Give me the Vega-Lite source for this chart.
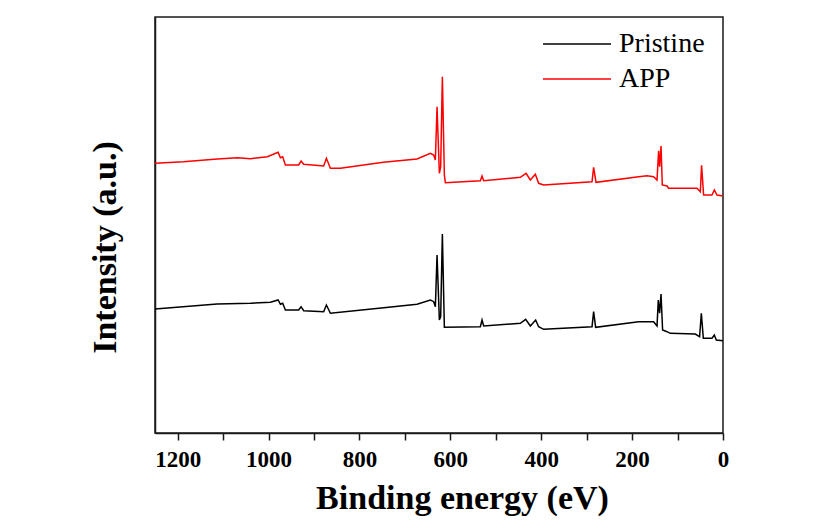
{
  "$schema": "https://vega.github.io/schema/vega-lite/v6.json",
  "autosize": {"type": "none"},
  "padding": {"left": 155, "top": 17, "right": 103, "bottom": 88},
  "width": 568,
  "height": 416,
  "background": "white",
  "config": {
    "view": {"stroke": "#1a1a1a", "strokeWidth": 1.5},
    "font": "Liberation Serif",
    "axis": {"labelFont": "Liberation Serif", "titleFont": "Liberation Serif"},
    "legend": {"labelFont": "Liberation Serif"}
  },
  "data": {
    "values": [
      {"s": "APP", "e": 1250, "i": 271.7},
      {"s": "APP", "e": 1187.5, "i": 273.3},
      {"s": "APP", "e": 1112.7, "i": 276},
      {"s": "APP", "e": 1068.6, "i": 277.3},
      {"s": "APP", "e": 1040, "i": 276.3},
      {"s": "APP", "e": 1002.6, "i": 278.3},
      {"s": "APP", "e": 979.1, "i": 282.7},
      {"s": "APP", "e": 974, "i": 277.3},
      {"s": "APP", "e": 969, "i": 278.3},
      {"s": "APP", "e": 963, "i": 270},
      {"s": "APP", "e": 933.8, "i": 270},
      {"s": "APP", "e": 928.5, "i": 274},
      {"s": "APP", "e": 922.8, "i": 270.7},
      {"s": "APP", "e": 878.8, "i": 269},
      {"s": "APP", "e": 872.8, "i": 276.7},
      {"s": "APP", "e": 864, "i": 266.7},
      {"s": "APP", "e": 842, "i": 266.7},
      {"s": "APP", "e": 747.4, "i": 272.7},
      {"s": "APP", "e": 673.3, "i": 276},
      {"s": "APP", "e": 644, "i": 281.7},
      {"s": "APP", "e": 636.7, "i": 280},
      {"s": "APP", "e": 633, "i": 275},
      {"s": "APP", "e": 629.3, "i": 328.3},
      {"s": "APP", "e": 624.2, "i": 261.7},
      {"s": "APP", "e": 621.3, "i": 268.3},
      {"s": "APP", "e": 617.6, "i": 358.3},
      {"s": "APP", "e": 613.2, "i": 260},
      {"s": "APP", "e": 611, "i": 252.3},
      {"s": "APP", "e": 534, "i": 254.3},
      {"s": "APP", "e": 530.3, "i": 259},
      {"s": "APP", "e": 526.7, "i": 254.3},
      {"s": "APP", "e": 446, "i": 257.7},
      {"s": "APP", "e": 433.4, "i": 261.7},
      {"s": "APP", "e": 424, "i": 255},
      {"s": "APP", "e": 413, "i": 260.7},
      {"s": "APP", "e": 405.7, "i": 251.7},
      {"s": "APP", "e": 394.7, "i": 250},
      {"s": "APP", "e": 288.2, "i": 253.3},
      {"s": "APP", "e": 284.7, "i": 267.7},
      {"s": "APP", "e": 279.4, "i": 252.7},
      {"s": "APP", "e": 185.7, "i": 258.3},
      {"s": "APP", "e": 167.2, "i": 259.3},
      {"s": "APP", "e": 152.7, "i": 258.3},
      {"s": "APP", "e": 145.2, "i": 255},
      {"s": "APP", "e": 141.7, "i": 284.3},
      {"s": "APP", "e": 139.5, "i": 268.3},
      {"s": "APP", "e": 136.4, "i": 289},
      {"s": "APP", "e": 133.6, "i": 250},
      {"s": "APP", "e": 123.2, "i": 249},
      {"s": "APP", "e": 119.7, "i": 246.7},
      {"s": "APP", "e": 57.2, "i": 246.7},
      {"s": "APP", "e": 49.9, "i": 243.3},
      {"s": "APP", "e": 47.1, "i": 269.7},
      {"s": "APP", "e": 42.7, "i": 240},
      {"s": "APP", "e": 24.2, "i": 240},
      {"s": "APP", "e": 19.1, "i": 245},
      {"s": "APP", "e": 13.2, "i": 240},
      {"s": "APP", "e": 0, "i": 239},
      {"s": "Pristine", "e": 1250, "i": 126},
      {"s": "Pristine", "e": 1113.3, "i": 131},
      {"s": "Pristine", "e": 1040, "i": 131.7},
      {"s": "Pristine", "e": 996, "i": 132.7},
      {"s": "Pristine", "e": 979.1, "i": 135},
      {"s": "Pristine", "e": 974, "i": 130.7},
      {"s": "Pristine", "e": 969, "i": 131.7},
      {"s": "Pristine", "e": 963, "i": 125},
      {"s": "Pristine", "e": 933.8, "i": 125},
      {"s": "Pristine", "e": 928.5, "i": 128.3},
      {"s": "Pristine", "e": 922.8, "i": 124.3},
      {"s": "Pristine", "e": 878.8, "i": 123.3},
      {"s": "Pristine", "e": 872.8, "i": 130},
      {"s": "Pristine", "e": 864, "i": 121.7},
      {"s": "Pristine", "e": 746.7, "i": 127.3},
      {"s": "Pristine", "e": 673.3, "i": 130.7},
      {"s": "Pristine", "e": 644, "i": 135},
      {"s": "Pristine", "e": 636.7, "i": 133.3},
      {"s": "Pristine", "e": 633, "i": 128.3},
      {"s": "Pristine", "e": 629.3, "i": 180},
      {"s": "Pristine", "e": 624.2, "i": 115},
      {"s": "Pristine", "e": 621.3, "i": 118.3},
      {"s": "Pristine", "e": 617.6, "i": 201},
      {"s": "Pristine", "e": 613.2, "i": 107.7},
      {"s": "Pristine", "e": 534, "i": 108.3},
      {"s": "Pristine", "e": 530.3, "i": 115},
      {"s": "Pristine", "e": 526.7, "i": 109},
      {"s": "Pristine", "e": 446, "i": 111.7},
      {"s": "Pristine", "e": 434.3, "i": 115.7},
      {"s": "Pristine", "e": 424, "i": 109},
      {"s": "Pristine", "e": 412.3, "i": 115},
      {"s": "Pristine", "e": 405.7, "i": 108.3},
      {"s": "Pristine", "e": 394.7, "i": 105.7},
      {"s": "Pristine", "e": 288.2, "i": 108.3},
      {"s": "Pristine", "e": 284.7, "i": 123.3},
      {"s": "Pristine", "e": 280.3, "i": 107.7},
      {"s": "Pristine", "e": 185.7, "i": 113.3},
      {"s": "Pristine", "e": 152.7, "i": 113.3},
      {"s": "Pristine", "e": 145.2, "i": 109},
      {"s": "Pristine", "e": 142.4, "i": 135},
      {"s": "Pristine", "e": 139.5, "i": 121.7},
      {"s": "Pristine", "e": 136.4, "i": 141},
      {"s": "Pristine", "e": 132.9, "i": 105},
      {"s": "Pristine", "e": 123.2, "i": 103.3},
      {"s": "Pristine", "e": 116, "i": 101.7},
      {"s": "Pristine", "e": 60.9, "i": 101},
      {"s": "Pristine", "e": 51.5, "i": 98.3},
      {"s": "Pristine", "e": 47.7, "i": 121.7},
      {"s": "Pristine", "e": 43.3, "i": 96.7},
      {"s": "Pristine", "e": 24.2, "i": 96.7},
      {"s": "Pristine", "e": 19.1, "i": 100},
      {"s": "Pristine", "e": 14.7, "i": 95},
      {"s": "Pristine", "e": 0, "i": 94.3}
    ]
  },
  "mark": {"type": "line", "strokeWidth": 1.5, "interpolate": "linear"},
  "encoding": {
    "x": {
      "field": "e",
      "type": "quantitative",
      "scale": {"domain": [0, 1250], "reverse": true, "nice": false, "zero": false},
      "axis": {
        "title": "Binding energy (eV)",
        "values": [0, 100, 200, 300, 400, 500, 600, 700, 800, 900, 1000, 1100, 1200],
        "format": "d",
        "labelExpr": "datum.value % 200 === 0 ? format(datum.value, 'd') : ''",
        "grid": false,
        "domainColor": "#1a1a1a",
        "domainWidth": 1.5,
        "tickColor": "#1a1a1a",
        "tickWidth": 1.5,
        "tickSize": 7,
        "labelFont": "Liberation Serif",
        "labelFontWeight": "bold",
        "labelFontSize": 23,
        "labelColor": "black",
        "labelPadding": 8,
        "labelFlush": false,
        "labelOverlap": false,
        "titleFont": "Liberation Serif",
        "titleFontWeight": "bold",
        "titleFontSize": 34,
        "titleColor": "black",
        "titleX": 307,
        "titleY": 75,
        "titleBaseline": "alphabetic",
        "titleAlign": "center"
      }
    },
    "y": {
      "field": "i",
      "type": "quantitative",
      "scale": {"domain": [2, 418], "nice": false, "zero": false},
      "axis": {
        "title": "Intensity (a.u.)",
        "labels": false,
        "ticks": false,
        "grid": false,
        "domainColor": "#1a1a1a",
        "domainWidth": 1.5,
        "titleFont": "Liberation Serif",
        "titleFontWeight": "bold",
        "titleFontSize": 34,
        "titleColor": "black",
        "titleAngle": -90,
        "titleX": -40,
        "titleY": 230,
        "titleBaseline": "alphabetic",
        "titleAlign": "center"
      }
    },
    "color": {
      "field": "s",
      "type": "nominal",
      "sort": ["Pristine", "APP"],
      "scale": {"domain": ["Pristine", "APP"], "range": ["#000000", "#ff0000"]},
      "legend": {
        "title": null,
        "orient": "none",
        "legendX": 408,
        "legendY": 13,
        "padding": 0,
        "symbolType": "M-4.25,0H4.25",
        "symbolSize": 256,
        "symbolStrokeWidth": 1.5,
        "symbolFillColor": "transparent",
        "labelFont": "Liberation Serif",
        "labelFontSize": 28,
        "labelColor": "black",
        "labelOffset": 28,
        "rowPadding": 7
      }
    }
  }
}
